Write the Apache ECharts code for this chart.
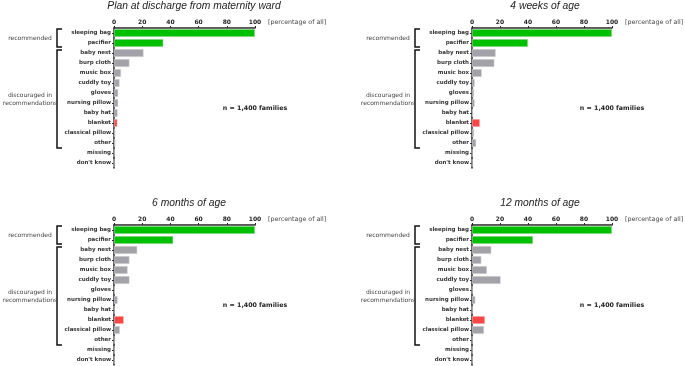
<!DOCTYPE html>
<html>
<head>
<meta charset="utf-8">
<script src="https://cdn.jsdelivr.net/npm/echarts@6/dist/echarts.min.js"></script>
<style>
  html, body { margin: 0; padding: 0; background: #fff; }
  #chart { width: 685px; height: 366px; }
</style>
</head>
<body>
<div id="chart"></div>
<script>
// items in the order they are listed on the axis
const categories = ['sleeping bag', 'pacifier', 'baby nest', 'burp cloth', 'music box', 'cuddly toy',
  'gloves', 'nursing pillow', 'baby hat', 'blanket', 'classical pillow', 'other', 'missing', "don't know"];

// percentage of all families, per time point
const discharge = [100, 35, 21, 11, 5, 4, 3, 3, 2.6, 2.4, 1, 1, 0.2, 0];
const weeks4 = [100, 40, 17, 16, 7, 2, 1.5, 2, 0.7, 5.7, 1.5, 3, 0.2, 0.2];
const months6 = [100, 42, 16.5, 11, 9.7, 11, 0.5, 2.6, 0.2, 7, 4.2, 0.2, 0.2, 0.2];
const months12 = [100, 43.6, 13.8, 6.7, 10.7, 20.5, 0.2, 2.4, 0.2, 9.3, 8.6, 0.2, 0.2, 0.2];

const panelTitles = ['Plan at discharge from maternity ward', '4 weeks of age', '6 months of age', '12 months of age'];
const xTicks = [0, 20, 40, 60, 80, 100];
const sampleNote = 'n = 1,400 families';
const unitNote = '[percentage of all]';

const panels = [discharge, weeks4, months6, months12];

const GREEN = '#00c000';
const GRAY = '#a2a2a8';
const RED = '#ff4646';

var chart = echarts.init(document.getElementById('chart'));

var grids = [
  {left: 114, top: 28, width: 141, height: 140},
  {left: 472, top: 28, width: 140, height: 140},
  {left: 114, top: 225, width: 141, height: 140},
  {left: 472, top: 225, width: 140, height: 140}
];
// title centre offset from the value axis origin
var titleShift = [80, 73, 75, 68];

function barColor(i) {
  if (i < 2) return GREEN;
  if (categories[i] === 'blanket') return RED;
  return GRAY;
}

chart.setOption({
  animation: false,
  grid: grids,
  xAxis: grids.map((g, i) => ({
    gridIndex: i,
    type: 'value',
    position: 'top',
    min: xTicks[0],
    max: xTicks[xTicks.length - 1],
    interval: xTicks[1] - xTicks[0],
    axisLine: {show: true, lineStyle: {color: '#222', width: 1.5}},
    axisTick: {show: true, length: 2, lineStyle: {color: '#222', width: 1}},
    axisLabel: {color: '#222', fontSize: 6, fontWeight: 'bold', margin: 3,
      fontFamily: 'DejaVu Sans'},
    splitLine: {show: false}
  })),
  yAxis: grids.map((g, i) => ({
    gridIndex: i,
    type: 'category',
    inverse: true,
    data: categories,
    axisLine: {show: true, lineStyle: {color: '#222', width: 1.5}},
    axisTick: {show: true, alignWithLabel: true, length: 2, lineStyle: {color: '#222', width: 1}},
    axisLabel: {color: '#333', fontSize: 5.5, fontWeight: 'bold', margin: 3,
      fontFamily: 'DejaVu Sans'}
  })),
  series: panels.map((vals, i) => ({
    type: 'bar',
    xAxisIndex: i,
    yAxisIndex: i,
    barCategoryGap: '20%',
    data: vals.map((v, k) => ({
      value: v,
      itemStyle: {color: barColor(k), borderColor: '#e4e4e4', borderWidth: 0.5}
    }))
  }))
});

// annotations: titles, brackets and notes placed from the axes
var graphics = [];
grids.forEach((g, i) => {
  var finder = {xAxisIndex: i, yAxisIndex: i};
  var first = chart.convertToPixel(finder, [0, categories[0]]);
  var second = chart.convertToPixel(finder, [0, categories[1]]);
  var third = chart.convertToPixel(finder, [0, categories[2]]);
  var otherPt = chart.convertToPixel(finder, [0, 'other']);
  var right = chart.convertToPixel(finder, [100, categories[0]]);
  var half = (second[1] - first[1]) / 2;
  var x0 = first[0];
  var bx = x0 - 57;

  graphics.push({
    type: 'text', x: x0 + titleShift[i], y: g.top - 22,
    style: {text: panelTitles[i], fill: '#222', font: 'italic 10.3px "Liberation Sans"',
      align: 'center', verticalAlign: 'middle'}
  });
  graphics.push({
    type: 'text', x: right[0] + 13, y: g.top - 6,
    style: {text: unitNote, fill: '#444', font: '6.3px "DejaVu Sans"',
      align: 'left', verticalAlign: 'middle'}
  });
  graphics.push({
    type: 'text', x: right[0], y: g.top + 80,
    style: {text: sampleNote, fill: '#222', font: 'bold 6.3px "DejaVu Sans"',
      align: 'center', verticalAlign: 'middle'}
  });

  var brackets = [
    {y1: first[1] - half + 1, y2: second[1] + half - 1, label: 'recommended'},
    {y1: third[1] - half + 2, y2: otherPt[1] + half, label: 'discouraged in\nrecommendations'}
  ];
  brackets.forEach(b => {
    graphics.push({
      type: 'polyline',
      shape: {points: [[bx + 5, b.y1], [bx, b.y1], [bx, b.y2], [bx + 5, b.y2]]},
      style: {stroke: '#111', lineWidth: 1.5, fill: null}
    });
    graphics.push({
      type: 'text', x: bx - 27, y: (b.y1 + b.y2) / 2,
      style: {text: b.label, fill: '#444', font: '6px "DejaVu Sans"', lineHeight: 8,
        align: 'center', verticalAlign: 'middle'}
    });
  });
});

chart.setOption({graphic: graphics});
</script>
</body>
</html>
